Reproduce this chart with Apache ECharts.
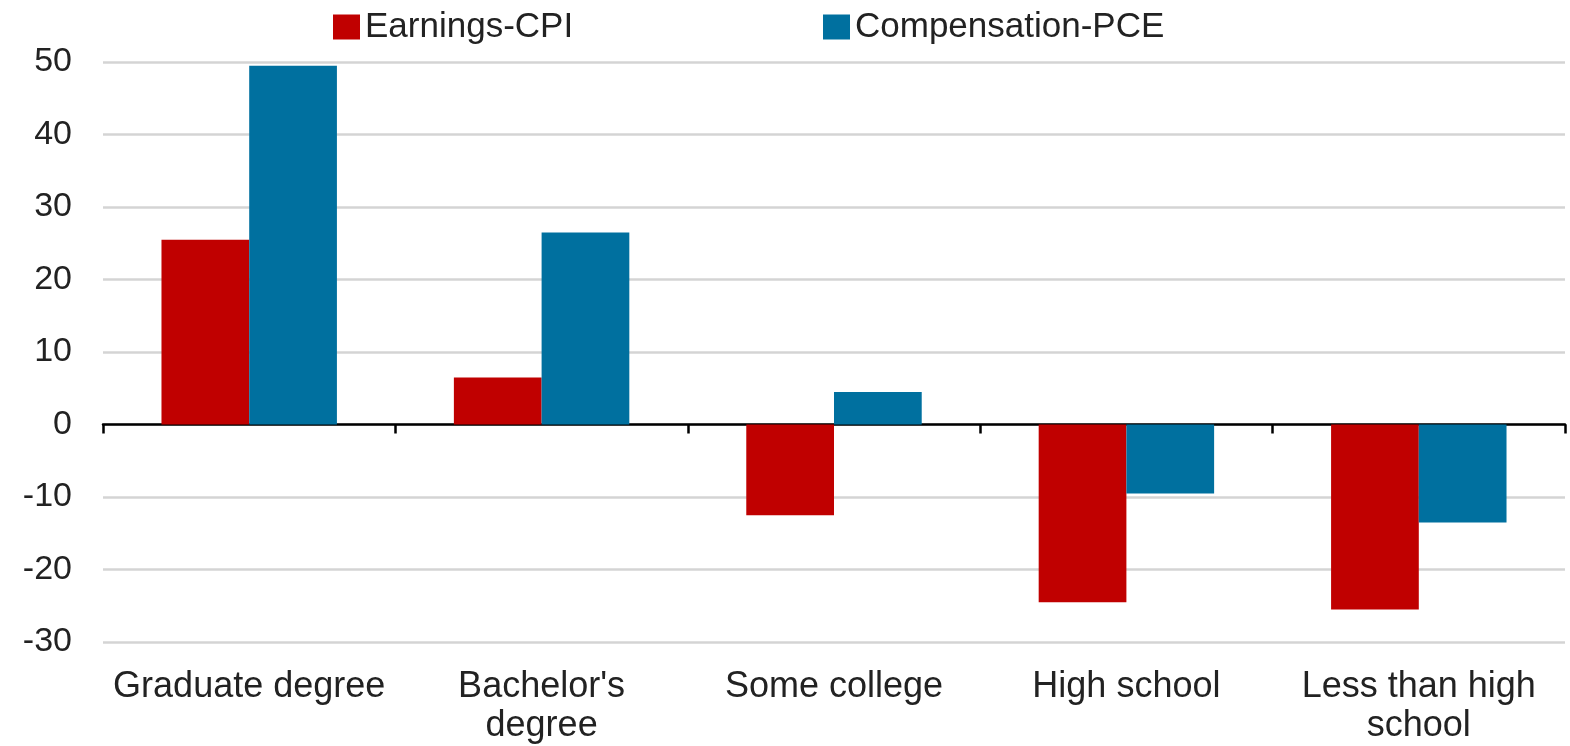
<!DOCTYPE html>
<html>
<head>
<meta charset="utf-8">
<script src="https://cdn.jsdelivr.net/npm/echarts@6/dist/echarts.min.js"></script>
<style>html,body{margin:0;padding:0;background:#fff;}#c{width:1570px;height:746px;}</style>
</head>
<body>
<div id="c"></div>
<script>
const categories = ['Graduate degree', "Bachelor's\ndegree", 'Some college', 'High school', 'Less than high\nschool'];
const earningsCPI = [25.5, 6.5, -12.5, -24.5, -25.5];
const compensationPCE = [49.5, 26.5, 4.5, -9.5, -13.5];
const yMin = -30, yMax = 50, yStep = 10;

const chart = echarts.init(document.getElementById('c'), null, {renderer: 'canvas'});
const font = 'Liberation Sans, Arial, sans-serif';
const legendText = {fontSize: 35, lineHeight: 40, color: '#222', fontFamily: font};
chart.setOption({
  animation: false,
  backgroundColor: '#fff',
  textStyle: {fontFamily: font},
  legend: [
    {data: ['Earnings-CPI'], left: 333, top: 7, padding: 0, icon: 'rect', itemWidth: 27, itemHeight: 25,
     textStyle: legendText},
    {data: ['Compensation-PCE'], left: 823, top: 7, padding: 0, icon: 'rect', itemWidth: 27, itemHeight: 25,
     textStyle: legendText}
  ],
  grid: {left: 103, right: 5, top: 62, bottom: 104, containLabel: false, outerBoundsMode: 'none'},
  xAxis: [
    {type: 'category', data: categories, position: 'bottom',
     axisLine: {onZero: true, lineStyle: {color: '#000', width: 2.5}},
     axisTick: {show: true, length: 9, lineStyle: {color: '#000', width: 2.5}},
     axisLabel: {show: false}, splitLine: {show: false}},
    {type: 'category', data: categories, position: 'bottom',
     axisLine: {show: false, onZero: false}, axisTick: {show: false},
     axisLabel: {show: true, fontSize: 36, lineHeight: 39, color: '#222', margin: 26, interval: 0, fontFamily: font},
     splitLine: {show: false}}
  ],
  yAxis: {type: 'value', min: yMin, max: yMax, interval: yStep,
    axisLine: {show: false}, axisTick: {show: false},
    axisLabel: {fontSize: 34, color: '#222', margin: 31, fontFamily: font},
    splitLine: {lineStyle: {color: '#d4d4d4', width: 2.5}}},
  series: [
    {name: 'Earnings-CPI', type: 'bar', data: earningsCPI, xAxisIndex: 0,
     itemStyle: {color: '#C00000'}, barGap: '0%', barCategoryGap: '40%'},
    {name: 'Compensation-PCE', type: 'bar', data: compensationPCE, xAxisIndex: 0,
     itemStyle: {color: '#00709F'}, barGap: '0%', barCategoryGap: '40%'}
  ]
});
</script>
</body>
</html>
